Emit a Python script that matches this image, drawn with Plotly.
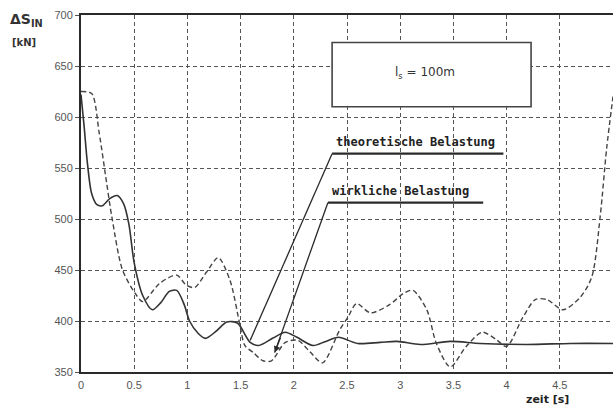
import plotly.graph_objects as go

# theoretische Belastung (solid)
t_theo = [0, 0.03, 0.06, 0.1, 0.15, 0.2, 0.27, 0.34, 0.4, 0.45, 0.5, 0.58, 0.67, 0.75, 0.83,
          0.9, 0.97, 1.02, 1.1, 1.17, 1.27, 1.37, 1.47, 1.59, 1.67, 1.8, 1.92, 2.03, 2.18, 2.3,
          2.42, 2.6, 2.81, 2.97, 3.19, 3.47, 3.75, 4.19, 4.6, 5.0]
v_theo = [622, 590, 555, 525, 514, 513, 520, 523, 515, 495, 457, 425, 411, 418, 429,
          430, 416, 400, 388, 383, 390, 399, 398, 379, 376, 383, 389, 384, 376, 380,
          384, 378, 379, 380, 377, 380, 378, 377, 378, 378]

# wirkliche Belastung (dashed)
t_real = [0, 0.1, 0.17, 0.24, 0.29, 0.39, 0.51, 0.58, 0.74, 0.9, 0.99, 1.07, 1.18, 1.29,
          1.4, 1.49, 1.54, 1.62, 1.71, 1.79, 1.92, 2.04, 2.15, 2.27, 2.43, 2.51, 2.59,
          2.72, 2.9, 3.03, 3.12, 3.25, 3.34, 3.47, 3.62, 3.77, 3.9, 4.0, 4.15, 4.27, 4.38,
          4.53, 4.69, 4.8, 4.88, 4.94, 5.0]
v_real = [625, 623, 585, 536, 502, 450, 427, 419, 437, 445, 435, 433, 448, 462,
          440, 398, 376, 369, 361, 361, 379, 381, 370, 359, 391, 404, 417,
          408, 416, 427, 430, 411, 378, 355, 375, 389, 382, 375, 403, 421, 421,
          411, 423, 443, 503, 569, 620]

x_ticks = [0, 0.5, 1, 1.5, 2, 2.5, 3, 3.5, 4, 4.5, 5]
x_ticktext = ["0", "0.5", "1", "1.5", "2", "2.5", "3", "3.5", "4", "4.5", "5"]
y_ticks = [350, 400, 450, 500, 550, 600, 650, 700]

ink = "#2a2a2a"
fig = go.Figure()
fig.add_trace(go.Scatter(x=t_theo, y=v_theo, mode="lines",
                         line=dict(color="#333", width=1.6, shape="spline", smoothing=0.8),
                         name="theoretische Belastung", showlegend=False, cliponaxis=False))
fig.add_trace(go.Scatter(x=t_real, y=v_real, mode="lines",
                         line=dict(color="#444", width=1.4, dash="5px,3px", shape="spline", smoothing=0.8),
                         name="wirkliche Belastung", showlegend=False, cliponaxis=False))

axis_font = dict(family="Liberation Sans, Arial", size=11, color="#555")
fig.update_xaxes(range=[0, 5], tickvals=x_ticks, ticktext=x_ticktext, automargin=False,
                 showgrid=True, gridcolor="#555", griddash="4px,3px", gridwidth=1,
                 showline=True, linecolor=ink, linewidth=2, mirror=True,
                 zeroline=False, tickfont=axis_font, ticks="", ticklabelstandoff=2)
fig.update_yaxes(range=[350, 700], tickvals=y_ticks, automargin=False,
                 showgrid=True, gridcolor="#555", griddash="4px,3px", gridwidth=1,
                 showline=True, linecolor=ink, linewidth=2, mirror=False,
                 zeroline=False, tickfont=axis_font, ticks="outside", ticklen=4,
                 tickcolor="#555")

shapes = [
    # box with l_s
    dict(type="rect", xref="x", yref="y", x0=2.36, x1=4.23, y0=610, y1=673,
         line=dict(color="#444", width=1.6), fillcolor="white", layer="above"),
    # theoretische underline + leader
    dict(type="line", xref="x", yref="y", x0=2.36, x1=3.97, y0=564, y1=564,
         line=dict(color=ink, width=2.2)),
    dict(type="line", xref="x", yref="y", x0=2.36, x1=1.59, y0=564, y1=381,
         line=dict(color=ink, width=1.3)),
    # wirkliche underline + leader
    dict(type="line", xref="x", yref="y", x0=2.32, x1=3.78, y0=516, y1=516,
         line=dict(color=ink, width=2.2)),
    dict(type="line", xref="x", yref="y", x0=2.32, x1=1.82, y0=516, y1=369,
         line=dict(color=ink, width=1.3)),
]

W, H = 615, 412
L, R, T, B = 81, 2, 15, 40
pw, ph = W - L - R, H - T - B
def px(xp, yp):
    return (xp - L) / pw, 1 - (yp - T) / ph

lab_font = dict(family="DejaVu Sans Mono", size=12, color="#222")
annotations = [
    dict(x=3.23, y=643, xref="x", yref="y", text="l<sub>s</sub> = 100m", showarrow=False,
         font=dict(family="DejaVu Sans", size=12, color="#333")),
    dict(x=2.38, y=564, xref="x", yref="y", text="<b>theoretische Belastung</b>",
         showarrow=False, xanchor="left", yanchor="bottom", yshift=3, font=lab_font),
    dict(x=2.34, y=516, xref="x", yref="y", text="<b>wirkliche Belastung</b>",
         showarrow=False, xanchor="left", yanchor="bottom", yshift=3, font=lab_font),
    # arrowhead on wirkliche leader
    dict(x=1.82, y=369, ax=1.88, ay=385, xref="x", yref="y", axref="x", ayref="y",
         text="", showarrow=True, arrowhead=2, arrowsize=1, arrowwidth=1.3, arrowcolor=ink),
]
x0, y0 = px(26, 20)
annotations.append(dict(x=x0, y=y0, xref="paper", yref="paper", text="<b>ΔS<sub>IN</sub></b>",
                        xanchor="center", yanchor="middle",
                        showarrow=False, font=dict(family="DejaVu Sans", size=14, color="#333")))
x0, y0 = px(24, 43)
annotations.append(dict(x=x0, y=y0, xref="paper", yref="paper", text="<b>[kN]</b>",
                        xanchor="center", yanchor="middle",
                        showarrow=False, font=dict(family="DejaVu Sans", size=10, color="#333")))
x0, y0 = px(547, 399)
annotations.append(dict(x=x0, y=y0, xref="paper", yref="paper", text="<b>zeit [s]</b>",
                        xanchor="center", yanchor="middle",
                        showarrow=False, font=dict(family="DejaVu Sans", size=11, color="#222")))

fig.update_layout(width=W, height=H, margin=dict(l=L, r=R, t=T, b=B, autoexpand=False),
                  plot_bgcolor="white", paper_bgcolor="white",
                  shapes=shapes, annotations=annotations, showlegend=False)
fig.write_html("out.html", config={"displayModeBar": False},
               post_script="document.body.style.margin='0';document.body.style.overflow='hidden';")
